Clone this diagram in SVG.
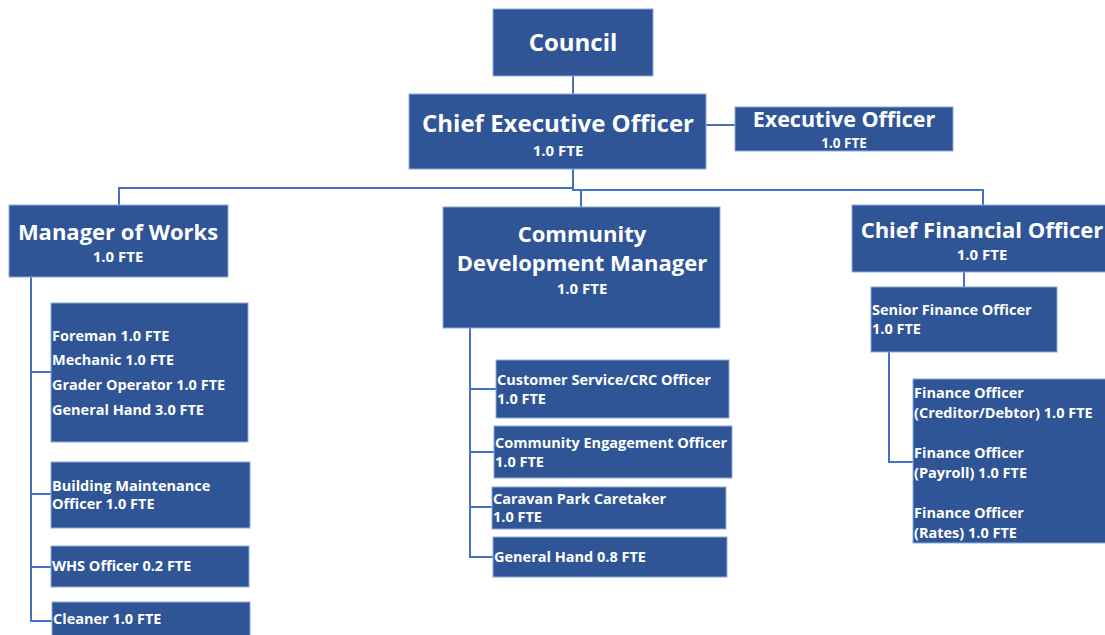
<svg xmlns="http://www.w3.org/2000/svg" width="1105" height="635" viewBox="0 0 1105 635">
<style>
.box{fill:#2F5597;stroke:#8FAADC;stroke-width:1}
.t{font-family:"Open Sans","Liberation Sans",sans-serif;font-weight:bold;fill:#fff}
.big{font-size:22px;text-anchor:middle}
.fte{font-size:15px;text-anchor:middle}
.sm{font-size:14.5px}
.c{fill:none;stroke:#4472C4;stroke-width:2}
</style>
<rect width="1105" height="635" fill="#fff"/>
<g id="connectors">
<path class="c" d="M573 76V94"/>
<path class="c" d="M706 125H735"/>
<path class="c" d="M573 169V188H119V205"/>
<path class="c" d="M573 188V190H581V207"/>
<path class="c" d="M581 190H983V205"/>
<path class="c" d="M31 277V621H52M31 372H51M31 494H51M31 567H51"/>
<path class="c" d="M470 328V557H493M470 389H496M470 452H494M470 507H492"/>
<path class="c" d="M964 272V287"/>
<path class="c" d="M889 352V462H913"/>
</g>
<g id="council"><rect class="box" x="493" y="9" width="160" height="67"/><text class="t big" x="573" y="51" style="font-size:24px">Council</text></g>
<g id="ceo"><rect class="box" x="409" y="94" width="297" height="75"/><text class="t big" x="558" y="132" style="font-size:24px">Chief Executive Officer</text><text class="t fte" x="558" y="156">1.0 FTE</text></g>
<g id="eo"><rect class="box" x="735" y="107" width="218" height="44"/><text class="t big" x="844" y="127" style="font-size:21.5px">Executive Officer</text><text class="t fte" x="844" y="148" style="font-size:13.5px">1.0 FTE</text></g>
<g id="mow"><rect class="box" x="9" y="205" width="219" height="72"/><text class="t big" x="118" y="240">Manager of Works</text><text class="t fte" x="118" y="262">1.0 FTE</text></g>
<g id="cdm"><rect class="box" x="443" y="207" width="277" height="121"/><text class="t big" x="582" y="242">Community</text><text class="t big" x="582" y="271">Development Manager</text><text class="t fte" x="582" y="294">1.0 FTE</text></g>
<g id="cfo"><rect class="box" x="852" y="205" width="260" height="67"/><text class="t big" x="982" y="238">Chief Financial Officer</text><text class="t fte" x="982" y="260">1.0 FTE</text></g>
<g id="works-crew"><rect class="box" x="51" y="303" width="197" height="139"/><text class="t sm" x="52" y="341">Foreman 1.0 FTE</text><text class="t sm" x="52" y="365">Mechanic 1.0 FTE</text><text class="t sm" x="52" y="390">Grader Operator 1.0 FTE</text><text class="t sm" x="52" y="415">General Hand 3.0 FTE</text></g>
<g id="bmo"><rect class="box" x="51" y="462" width="199" height="66"/><text class="t sm" x="52" y="491">Building Maintenance</text><text class="t sm" x="52" y="509">Officer 1.0 FTE</text></g>
<g id="whs"><rect class="box" x="51" y="546" width="198" height="41"/><text class="t sm" x="52" y="571">WHS Officer 0.2 FTE</text></g>
<g id="cleaner"><rect class="box" x="52" y="602" width="198" height="40"/><text class="t sm" x="53" y="624">Cleaner 1.0 FTE</text></g>
<g id="cs"><rect class="box" x="496" y="360" width="233" height="58"/><text class="t sm" x="497" y="385">Customer Service/CRC Officer</text><text class="t sm" x="497" y="404">1.0 FTE</text></g>
<g id="ce"><rect class="box" x="494" y="426" width="238" height="52"/><text class="t sm" x="495" y="448">Community Engagement Officer</text><text class="t sm" x="495" y="467">1.0 FTE</text></g>
<g id="cp"><rect class="box" x="492" y="487" width="234" height="42"/><text class="t sm" x="493" y="504">Caravan Park Caretaker</text><text class="t sm" x="493" y="522">1.0 FTE</text></g>
<g id="gh"><rect class="box" x="493" y="537" width="234" height="40"/><text class="t sm" x="494" y="562">General Hand 0.8 FTE</text></g>
<g id="sfo"><rect class="box" x="871" y="287" width="186" height="65"/><text class="t sm" x="872" y="315">Senior Finance Officer</text><text class="t sm" x="872" y="334">1.0 FTE</text></g>
<g id="fo"><rect class="box" x="913" y="379" width="200" height="164"/><text class="t sm" x="914" y="398">Finance Officer</text><text class="t sm" x="914" y="418">(Creditor/Debtor) 1.0 FTE</text><text class="t sm" x="914" y="458">Finance Officer</text><text class="t sm" x="914" y="478">(Payroll) 1.0 FTE</text><text class="t sm" x="914" y="518">Finance Officer</text><text class="t sm" x="914" y="538">(Rates) 1.0 FTE</text></g>
</svg>
